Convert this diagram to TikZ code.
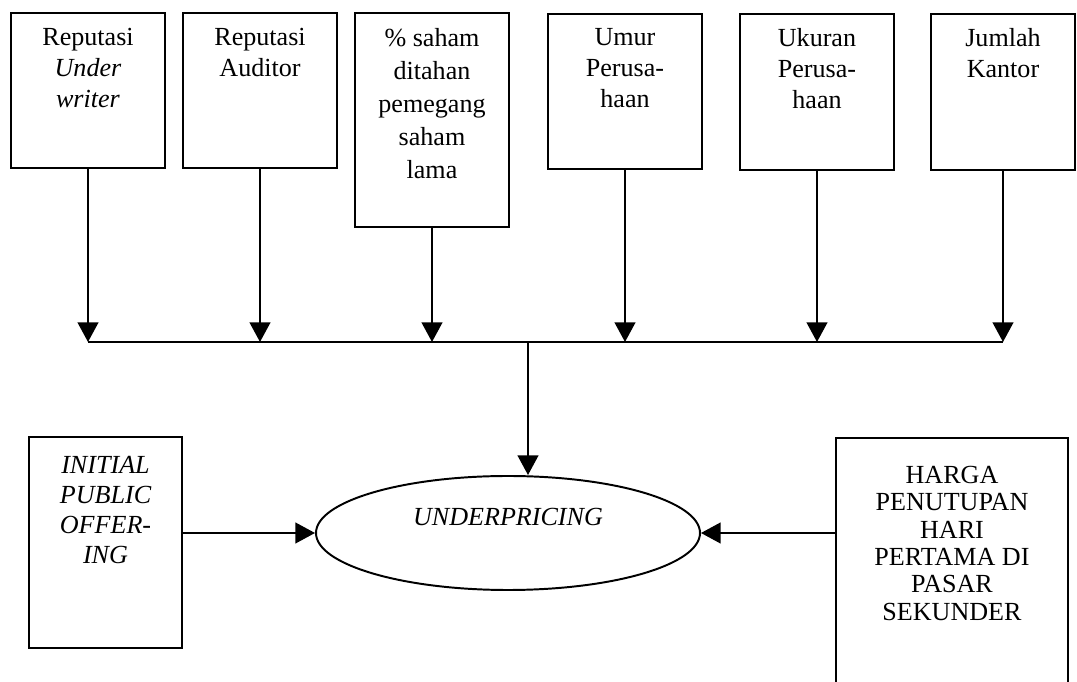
\documentclass[tikz,border=0pt]{standalone}
\usepackage{fontspec}
\setmainfont{Liberation Serif}
\usetikzlibrary{arrows.meta,positioning,fit,shapes.geometric}
\tikzset{
  frame/.style={draw,inner sep=0pt},
  lbl/.style={anchor=north,inner sep=0pt,align=center,
    font=\fontsize{12}{14.3}\selectfont},
  arr/.style={-{Triangle[length=9pt,width=9.5pt]}},
}

\begin{document}
\begin{tikzpicture}[x=0.46pt,y=-0.46pt,line width=0.9pt]
  \clip (0,0) rectangle (1077,682);
  % faktor-faktor di atas
  \node[frame,fit={(11,13) (165,168)}] (rpu) {};
  \node[frame,fit={(183,13) (337,168)}] (rpa) {};
  \node[frame,fit={(355,13) (509,227)}] (shm) {};
  \node[frame,fit={(548,14) (702,169)}] (umr) {};
  \node[frame,fit={(740,14) (894,170)}] (ukr) {};
  \node[frame,fit={(931,14) (1075,170)}] (jkt) {};
  \node[lbl] (rpu-t) at (rpu.north |- 0,27) {Reputasi\\\emph{Under}\\\emph{writer}};
  \node[lbl] (rpa-t) at (rpa.north |- 0,27) {Reputasi\\Auditor};
  \node[lbl,font=\fontsize{12}{15.2}\selectfont] (shm-t) at (shm.north |- 0,27)
    {\% saham\\ditahan\\pemegang\\saham\\lama};
  \node[lbl] (umr-t) at (umr.north |- 0,27) {Umur\\Perusa-\\haan};
  \node[lbl] (ukr-t) at (ukr.north |- 0,27) {Ukuran\\Perusa-\\haan};
  \node[lbl] (jkt-t) at (jkt.north |- 0,27) {Jumlah\\Kantor};
  % garis pengumpul
  \coordinate (barL) at (88,342);
  \coordinate (barR) at (jkt.south |- barL);
  \coordinate (barM) at (528,342);
  \draw (barL) -- (barR);
  \foreach \b in {rpu,rpa,shm,umr,ukr,jkt}
    \draw[arr] (\b.south) -- (\b.south |- barL);
  % underpricing
  \node[frame,ellipse,minimum width=384*0.46pt,minimum height=114*0.46pt]
    (upr) at (508,533) {};
  \node[inner sep=0pt,font=\fontsize{12}{14}\selectfont\itshape] (upr-t) at (508,517) {UNDERPRICING};
  \draw[arr] (barM) -- (barM |- upr.north);
  % kotak kiri dan kanan
  \node[frame,fit={(29,437) (182,648)}] (ipo) {};
  \node[lbl,font=\fontsize{12}{13.8}\selectfont\itshape] (ipo-t) at (ipo.north |- 0,455)
    {INITIAL\\PUBLIC\\OFFER-\\ING};
  \node[frame,fit={(836,438) (1068,720)}] (hrg) {};
  \node[lbl,font=\fontsize{12}{12.6}\selectfont] (hrg-t) at (hrg.north |- 0,465)
    {HARGA\\PENUTUPAN\\HARI\\PERTAMA DI\\PASAR\\SEKUNDER};
  \draw[arr] (ipo.east |- upr.west) -- (upr.west);
  \draw[arr] (hrg.west |- upr.east) -- (upr.east);
\end{tikzpicture}
\end{document}
